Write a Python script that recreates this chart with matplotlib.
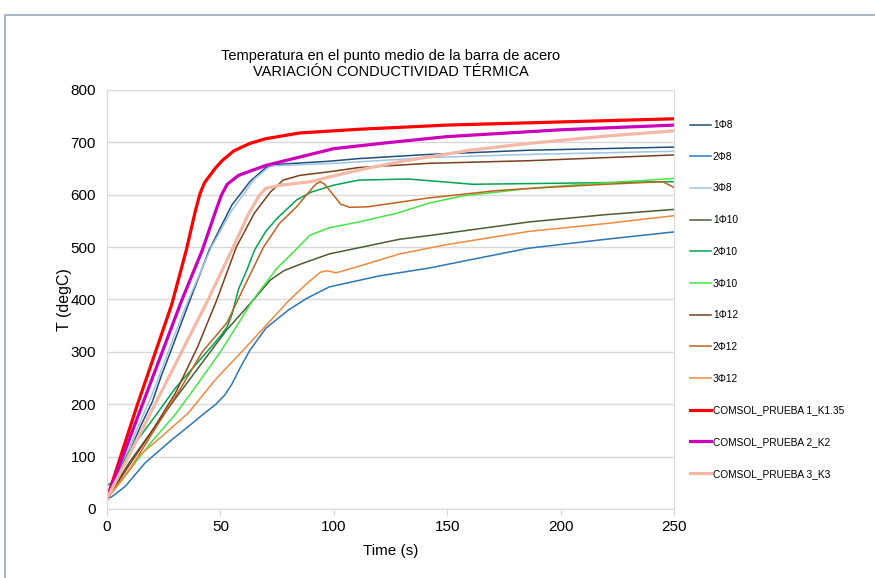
import matplotlib
matplotlib.use("Agg")
import matplotlib.pyplot as plt
from matplotlib.patches import Rectangle

plt.rcParams['font.family'] = ['Liberation Sans', 'DejaVu Sans']

# values: time (s), temperature (degC)
t_1phi8 = [0, 5, 10, 15, 20, 22, 24, 28, 36.6, 45, 55, 63, 70, 75, 98, 111, 142, 186, 250]
T_1phi8 = [20, 60, 110, 160, 205, 230, 255, 300, 399, 494, 580, 625, 652, 658, 664, 669, 677, 685, 691]

t_2phi8 = [0, 2, 8, 16.8, 28.5, 36, 43, 48, 52, 55, 59, 63, 70, 80, 88, 98, 120, 142, 165, 186, 220, 250]
T_2phi8 = [20, 23, 43, 88, 132, 158, 183, 200, 218, 238, 272, 303, 345, 380, 402, 424, 445, 460, 480, 498, 515, 529]

t_3phi8 = [0, 10, 20, 30, 35, 40, 46, 55, 65, 72, 100, 142, 186, 250]
T_3phi8 = [20, 120, 220, 335, 390, 440, 500, 570, 630, 655, 660, 671, 677, 683]

t_1phi10 = [0, 10, 20, 30, 40, 52.8, 64.5, 72, 78, 85, 98, 129, 142, 186, 220, 250]
T_1phi10 = [20, 90, 150, 210, 268, 342, 399, 437, 455, 467, 487, 515, 522, 548, 562, 572]

t_2phi10 = [0, 2, 5, 10, 20, 30, 40, 50, 53, 55, 58, 62, 65, 70, 75, 83.6, 90, 99.7,
            111, 133, 150, 161, 180, 200, 250]
T_2phi10 = [45, 50, 70, 112, 170, 230, 280, 330, 348, 370, 420, 460, 494, 530, 555, 590, 605, 618,
            628, 630, 624, 620, 621, 622, 625]

t_3phi10 = [0, 10, 20, 30, 38, 50, 64.5, 75, 83, 89.5, 98, 111, 128, 142, 157, 172, 186, 210, 250]
T_3phi10 = [20, 75, 130, 180, 227, 300, 400, 460, 494, 523, 537, 548, 565, 584, 598, 605, 612, 620, 631]

t_1phi12 = [0, 10, 20, 30, 40, 48.4, 57, 65, 72, 77.7, 85, 100, 111, 142, 186, 250]
T_1phi12 = [20, 85, 150, 220, 310, 399, 500, 565, 605, 628, 637, 645, 652, 660, 665, 676]

t_2phi12 = [0, 10, 20, 32, 42, 52.8, 60, 69, 76, 83.6, 89, 92, 94, 96, 99.7, 103, 107, 115,
            142, 172, 186, 220, 245, 250]
T_2phi12 = [20, 75, 145, 227, 300, 355, 420, 500, 545, 577, 605, 620, 625, 620, 600, 582, 576, 577,
            594, 608, 612, 620, 625, 614]

t_3phi12 = [0, 6.5, 13.7, 24, 35.8, 47.6, 60, 70, 80, 88, 94, 97, 101, 110, 129, 150, 186, 220, 250]
T_3phi12 = [20, 55, 100, 138, 183, 246, 303, 350, 397, 430, 452, 455, 451, 462, 487, 505, 530, 545, 560]

t_k135 = [0, 13.3, 28.5, 35, 39, 41, 43, 45.4, 48, 51, 56, 63, 70, 85, 111, 150, 200, 250]
T_k135 = [20, 198, 390, 495, 570, 602, 623, 637, 652, 666, 684, 698, 707, 718, 725, 733, 739, 745]

t_k2 = [0, 10, 20, 33, 42, 48, 50.5, 53, 58, 70, 85, 100, 125, 150, 200, 250]
T_k2 = [20, 135, 250, 399, 494, 570, 600, 620, 637, 656, 672, 688, 700, 711, 724, 733]

t_k3 = [0, 10, 20, 30, 44.5, 55, 62, 67, 70, 76, 90, 98, 111, 129, 160, 186, 220, 250]
T_k3 = [20, 105, 190, 275, 399, 494, 560, 598, 612, 618, 625, 634, 647, 663, 685, 698, 712, 722]

labels = ['1Φ8', '2Φ8', '3Φ8', '1Φ10', '2Φ10', '3Φ10', '1Φ12', '2Φ12', '3Φ12',
          'COMSOL_PRUEBA 1_K1.35', 'COMSOL_PRUEBA 2_K2', 'COMSOL_PRUEBA 3_K3']
colors = ['#1f4e79', '#2e75b6', '#9dc3e6', '#4a5d32', '#00a550', '#44e544',
          '#7b3f1c', '#c0601e', '#f08a3c', '#ff0000', '#cc00bb', '#f4b9a6']

series = [(t_1phi8, T_1phi8), (t_2phi8, T_2phi8), (t_3phi8, T_3phi8),
          (t_1phi10, T_1phi10), (t_2phi10, T_2phi10), (t_3phi10, T_3phi10),
          (t_1phi12, T_1phi12), (t_2phi12, T_2phi12), (t_3phi12, T_3phi12),
          (t_k135, T_k135), (t_k2, T_k2), (t_k3, T_k3)]

fig = plt.figure(figsize=(8.75, 5.78), dpi=100)
ax = fig.add_axes([0.1223, 0.1194, 0.6480, 0.7249])

for i, (t, T) in enumerate(series):
    lw = 2.3 if i >= 9 else 1.1
    ax.plot(t, T, color=colors[i], lw=lw, label=labels[i])

ax.set_xlim(0, 250)
ax.set_ylim(0, 800)
ax.set_xticks([0, 50, 100, 150, 200, 250])
ax.set_yticks(range(0, 801, 100))
ax.grid(axis='y', color='#d9d9d9', lw=1)
ax.set_axisbelow(True)
for s in ax.spines.values():
    s.set_color('#d9d9d9')
ax.tick_params(axis='y', length=0, labelsize=11, pad=8)
ax.tick_params(axis='x', length=5, color='#d9d9d9', labelsize=11, pad=3)

ax.set_xlabel("Time (s)", fontsize=11, labelpad=7)
ax.set_ylabel("T (degC)", fontsize=11.5, labelpad=-1)
ax.set_title("Temperatura en el punto medio de la barra de acero\nVARIACIÓN CONDUCTIVIDAD TÉRMICA",
             fontsize=10.5, pad=10, linespacing=1.15)

ax.legend(loc='upper left', bbox_to_anchor=(0.784, 0.7993), bbox_transform=fig.transFigure,
          frameon=False, fontsize=7.3, handlelength=2.1, handletextpad=0.15,
          labelspacing=2.14, borderaxespad=0)

# outer chart border
fig.patches.append(Rectangle((4.5 / 875, -0.1), 1.2, 1.1 - 14.5 / 578, transform=fig.transFigure,
                             fill=False, edgecolor='#9aa9b8', lw=1.2))

fig.savefig("out.png", dpi=100)
